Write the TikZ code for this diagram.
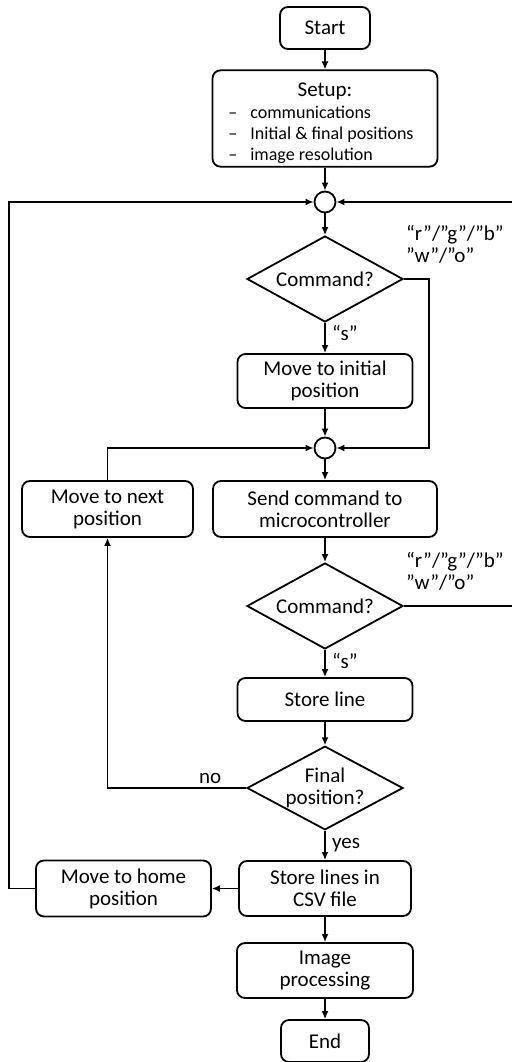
\documentclass[tikz,border=0pt]{standalone}
\usepackage{fontspec}
\setmainfont{Carlito}
\usetikzlibrary{arrows.meta,shapes.geometric}

\tikzset{
	blk/.style={draw, rounded corners=8pt, line width=1.8pt, align=center, inner sep=0pt},
	dec/.style={draw, diamond, shape aspect=1.8, line width=1.8pt, align=center, inner sep=0pt, minimum width=156pt, minimum height=86pt},
	jnc/.style={draw, circle, line width=1.8pt, minimum size=21pt, inner sep=0pt},
	arr/.style={line width=1.8pt, -{Latex[length=8pt,width=7pt]}},
	lbl/.style={inner sep=0pt, align=left},
	tag/.style={right, xshift=3pt},
}

\begin{document}
\begin{tikzpicture}[x=1pt, y=-1pt, every node/.append style={font=\fontsize{21}{22}\selectfont}]
					\useasboundingbox (0,0) rectangle (511,1062);
					%Setup
					\node[blk, minimum width=90pt, minimum height=42pt] (start) at (325,28) {Start};
					\node[blk, minimum width=225pt, minimum height=89pt] (setup) at (325,118.5) {\rule{0pt}{26pt}Setup:\\\fontsize{18}{21}\selectfont\begin{tabular}[t]{@{}l@{\hspace{13pt}}l@{}}–& communications\\–& Initial \& final positions\\–& image resolution\end{tabular}\hspace*{8pt}};
					%Outer loop
					\node[jnc] (c1) at (325,202) {};
					\node[dec] (cmd1) at (325,279) {Command?};
					\node[lbl, anchor=west] (q1) at (406,244) {“r”/”g”/”b”\\”w”/”o”};
					\node[blk, minimum width=175pt, minimum height=54pt] (mvinit) at (325,381) {Move to initial\\position};
					%Inner loop
					\node[jnc] (c2) at (325,448) {};
					\node[blk, minimum width=171pt, minimum height=56pt] (mvnext) at (107.5,509) {Move to next\\position};
					\node[blk, minimum width=224pt, minimum height=56pt] (send) at (325,509) {Send command to\\microcontroller};
					\node[dec] (cmd2) at (325,606) {Command?};
					\node[lbl, anchor=west] (q2) at (406,571) {“r”/”g”/”b”\\”w”/”o”};
					\node[blk, minimum width=175pt, minimum height=43pt] (store) at (325,699.5) {Store line};
					\node[dec, minimum height=82pt] (final) at (325,788) {Final\\position?};
					%Finish
					\node[blk, minimum width=172pt, minimum height=55pt] (csv) at (325,888.5) {Store lines in\\CSV file};
					\node[blk, minimum width=175pt, minimum height=56pt] (home) at (123.5,888.5) {Move to home\\position};
					\node[blk, minimum width=176pt, minimum height=55pt] (imgp) at (325,970.5) {Image\\processing};
					\node[blk, minimum width=88pt, minimum height=42pt] (end) at (325,1041) {End};
					%Bends
					\coordinate (r1) at (429,448);
					\coordinate (r2) at (516,606);
					\coordinate (l1) at (9,888.5);
					%Arrows
					\draw[arr] (start) -- (setup);
					\draw[arr] (setup) -- (c1);
					\draw[arr] (c1) -- (cmd1);
					\draw[arr] (cmd1) -- node[tag, pos=0.35] {“s”} (mvinit);
					\draw[arr] (cmd1.east) -| (r1) -- (c2);
					\draw[arr] (mvinit) -- (c2);
					\draw[arr] (c2) -- (send);
					\draw[arr] (mvnext.north) |- (c2);
					\draw[arr] (send) -- (cmd2);
					\draw[arr] (cmd2.east) -- (r2) |- (c1);
					\draw[arr] (cmd2) -- node[tag, pos=0.4] {“s”} (store);
					\draw[arr] (store) -- (final);
					\draw[arr] (final.west) -| node[above, pos=0.13] {no} (mvnext.south);
					\draw[arr] (final) -- node[tag] {yes} (csv);
					\draw[arr] (csv) -- (home);
					\draw[arr] (home.west) -- (l1) |- (c1);
					\draw[arr] (csv) -- (imgp);
					\draw[arr] (imgp) -- (end);
\end{tikzpicture}
\end{document}
